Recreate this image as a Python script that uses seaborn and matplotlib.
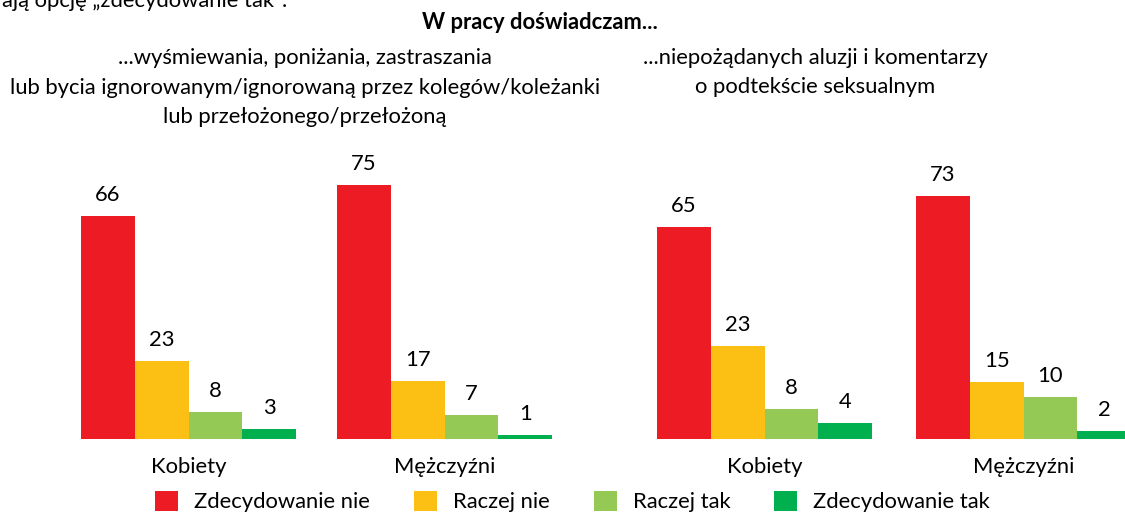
import matplotlib
matplotlib.use('Agg')
import matplotlib.pyplot as plt
import seaborn as sns
import pandas as pd

# ---------------- data ----------------
groups = ['Kobiety', 'Mężczyźni']
answers = ['Zdecydowanie nie', 'Raczej nie', 'Raczej tak', 'Zdecydowanie tak']
colors = ['#ED1C24', '#FCBF14', '#95C955', '#00B04F']

# left panel: printed percentages (bars drawn from these)
left_values = [[66, 23, 8, 3], [75, 17, 7, 1]]
# right panel: printed percentages and bar heights as drawn in the picture
right_labels = [[65, 23, 8, 4], [73, 15, 10, 2]]
right_heights = [[62.6, 27.4, 8.8, 4.6], [71.8, 16.8, 12.3, 2.3]]

top_note = 'ają opcję „zdecydowanie tak”.'
title = 'W pracy doświadczam...'
left_sub = ['...wyśmiewania, poniżania, zastraszania',
            'lub bycia ignorowanym/ignorowaną przez kolegów/koleżanki',
            'lub przełożonego/przełożoną']
right_sub = ['...niepożądanych aluzji i komentarzy',
             'o podtekście seksualnym']

# ---------------- style ----------------
sns.set_theme(style='white')
plt.rcParams['font.family'] = ['Lato', 'DejaVu Sans']
plt.rcParams['text.color'] = '#000000'

W, H = 1125, 514
fig = plt.figure(figsize=(W / 100, H / 100), dpi=100)
fig.patch.set_facecolor('white')

# fit font size so the long subtitle line has the reference width
renderer = fig.canvas.get_renderer()
probe = fig.text(0, 0, left_sub[1], fontsize=10)
w10 = probe.get_window_extent(renderer).width
probe.remove()
fs = 10 * 594 / w10


def make_df(vals):
    rows = []
    for gi, g in enumerate(groups):
        for ai, a in enumerate(answers):
            rows.append({'group': g, 'answer': a, 'value': vals[gi][ai]})
    return pd.DataFrame(rows)


base_px = 438.7
px_per_unit = 3.38
ymax = 85
ax_bottom = (H - base_px) / H
ax_height = ymax * px_per_unit / H

axL = fig.add_axes([60.5 / W, ax_bottom, 512 / W, ax_height])
axR = fig.add_axes([635 / W, ax_bottom, 518 / W, ax_height])

panels = [
    (axL, make_df(left_values), left_values, 0.84),
    (axR, make_df(right_heights), right_labels, 0.83),
]

for ax, df, labels, bw in panels:
    sns.barplot(data=df, x='group', y='value', hue='answer', order=groups,
                hue_order=answers, palette=colors, width=bw, saturation=1,
                errorbar=None, linewidth=0, ax=ax, legend=(ax is axL))
    ax.set_xlim(-0.5, 1.5)
    ax.set_ylim(0, ymax)
    ax.set_xlabel('')
    ax.set_ylabel('')
    ax.set_yticks([])
    ax.set_facecolor('white')
    for s in ax.spines.values():
        s.set_visible(False)
    ax.tick_params(axis='x', length=0, pad=13.5, labelsize=fs, colors='#000000')
    for ai, cont in enumerate(ax.containers):
        for gi, bar in enumerate(cont):
            ax.annotate(str(labels[gi][ai]),
                        xy=(bar.get_x() + bar.get_width() / 2, bar.get_height()),
                        xytext=(0, 15 * 72 / 100), textcoords='offset points',
                        ha='center', va='baseline', fontsize=fs, color='#000000')

handles, lbls = axL.get_legend_handles_labels()
if axL.get_legend() is not None:
    axL.get_legend().remove()

fs_px = fs * 100 / 72
fig.legend(handles, lbls, loc='center', bbox_to_anchor=(572.5 / W, 1 - 501.5 / H),
           ncol=4, frameon=False, fontsize=fs,
           handlelength=23 / fs_px, handleheight=23 / fs_px,
           handletextpad=16 / fs_px, columnspacing=44 / fs_px, borderpad=0,
           borderaxespad=0)

# ---------------- texts ----------------
fig.text(2 / W, 1 - 7 / H, top_note, ha='left', va='baseline', fontsize=fs)
fig.text(540 / W, 1 - 29 / H, title, ha='center', va='baseline', fontsize=fs,
         fontweight='bold')
for line, yb in zip(left_sub, [64, 94, 123]):
    fig.text(305 / W, 1 - yb / H, line, ha='center', va='baseline', fontsize=fs)
for line, yb in zip(right_sub, [64, 93]):
    fig.text(815 / W, 1 - yb / H, line, ha='center', va='baseline', fontsize=fs)

fig.savefig('out.png', dpi=100, facecolor='white')
